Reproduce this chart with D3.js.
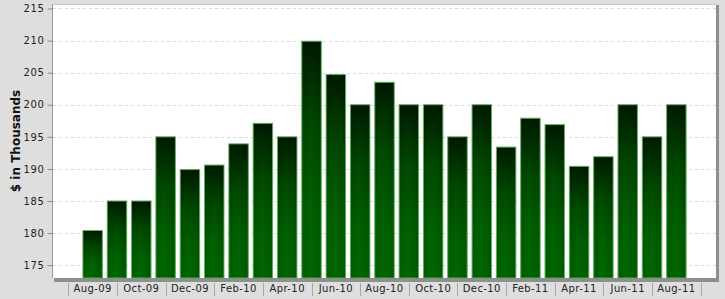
<!DOCTYPE html>
<html>
<head>
<meta charset="utf-8">
<script src="https://cdn.jsdelivr.net/npm/d3@7"></script>
<style>
  html, body { margin: 0; padding: 0; background: #dedede; }
  svg { display: block; font-family: "DejaVu Sans", Verdana, sans-serif; }
</style>
</head>
<body>
<script>
const months = ["Aug-09","Sep-09","Oct-09","Nov-09","Dec-09","Jan-10","Feb-10","Mar-10","Apr-10",
  "May-10","Jun-10","Jul-10","Aug-10","Sep-10","Oct-10","Nov-10","Dec-10","Jan-11","Feb-11",
  "Mar-11","Apr-11","May-11","Jun-11","Jul-11","Aug-11"];
const values = [180.4, 185, 185, 195, 189.9, 190.6, 193.9, 197.1, 195, 209.9, 204.7, 200, 203.5,
  200, 200, 195, 200, 193.4, 197.9, 196.9, 190.4, 191.9, 200, 195, 200];
const yTicks = [175, 180, 185, 190, 195, 200, 205, 210, 215];
const labelledMonths = months.filter((d, i) => i % 2 === 0);
const yLabel = "$ in Thousands";

const W = 725, H = 299;
const plot = {left: 53, top: 4, right: 716, bottom: 278};

const svg = d3.select("body").append("svg")
  .attr("width", W)
  .attr("height", H);

const x = d3.scaleBand()
  .domain(months)
  .range([plot.left, plot.right])
  .paddingInner(0.2)
  .paddingOuter(1.23);

const y = d3.scaleLinear()
  .domain([173, 215.7])
  .range([plot.bottom, plot.top]);

// bar gradient
const defs = svg.append("defs");
const grad = defs.append("linearGradient")
  .attr("id", "barGrad")
  .attr("x1", 0).attr("y1", 0).attr("x2", 0).attr("y2", 1);
grad.append("stop").attr("offset", "0%").attr("stop-color", "#001a00");
grad.append("stop").attr("offset", "35%").attr("stop-color", "#004a00");
grad.append("stop").attr("offset", "70%").attr("stop-color", "#006200");
grad.append("stop").attr("offset", "100%").attr("stop-color", "#006800");

const side = defs.append("linearGradient")
  .attr("id", "sideGrad")
  .attr("x1", 0).attr("y1", 0).attr("x2", 1).attr("y2", 0);
side.append("stop").attr("offset", "0%").attr("stop-color", "#000").attr("stop-opacity", 0.12);
side.append("stop").attr("offset", "45%").attr("stop-color", "#000").attr("stop-opacity", 0);
side.append("stop").attr("offset", "100%").attr("stop-color", "#000").attr("stop-opacity", 0.15);

// plot frame with shadow
svg.append("rect")
  .attr("x", plot.left + 1).attr("y", plot.top + 1)
  .attr("width", plot.right - plot.left + 2)
  .attr("height", plot.bottom - plot.top + 3)
  .attr("fill", "#8f8f8f");
svg.append("rect")
  .attr("x", plot.left).attr("y", plot.top)
  .attr("width", plot.right - plot.left)
  .attr("height", plot.bottom - plot.top)
  .attr("fill", "#fff");
svg.append("line")
  .attr("x1", plot.left).attr("x2", plot.right)
  .attr("y1", plot.top + 0.5).attr("y2", plot.top + 0.5)
  .attr("stroke", "#c8c8c8");
svg.append("line")
  .attr("x1", plot.left - 0.5).attr("x2", plot.left - 0.5)
  .attr("y1", plot.top).attr("y2", plot.bottom)
  .attr("stroke", "#9a9a9a");

// grid
svg.append("g")
  .selectAll("line")
  .data(yTicks)
  .join("line")
  .attr("x1", plot.left).attr("x2", plot.right)
  .attr("y1", d => Math.round(y(d)) + 0.5)
  .attr("y2", d => Math.round(y(d)) + 0.5)
  .attr("stroke", "#d8d8d8")
  .attr("stroke-dasharray", "3,3");

// y axis
const yAxis = svg.append("g")
  .attr("transform", `translate(${plot.left - 0.5},0)`)
  .call(d3.axisLeft(y).tickValues(yTicks).tickSize(5).tickPadding(3));
yAxis.select(".domain").remove();
yAxis.selectAll(".tick line").attr("stroke", "#888");
yAxis.selectAll(".tick text")
  .attr("fill", "#222")
  .attr("font-size", "10px")
  .attr("letter-spacing", "0.6px")
  .attr("font-family", "DejaVu Sans, Verdana, sans-serif");

svg.append("text")
  .attr("transform", `translate(20,${(plot.top + plot.bottom) / 2}) rotate(-90)`)
  .attr("text-anchor", "middle")
  .attr("font-size", "12px")
  .attr("font-weight", "bold")
  .attr("fill", "#111")
  .text(yLabel);

// bars
const bars = svg.append("g");
bars.selectAll("rect.bar")
  .data(values)
  .join("rect")
  .attr("class", "bar")
  .attr("x", (d, i) => x(months[i]))
  .attr("y", d => y(d))
  .attr("width", x.bandwidth())
  .attr("height", d => plot.bottom - y(d))
  .attr("fill", "url(#barGrad)")
  .attr("stroke", "#5fae5f")
  .attr("stroke-width", 1);
bars.selectAll("rect.shade")
  .data(values)
  .join("rect")
  .attr("class", "shade")
  .attr("x", (d, i) => x(months[i]) + 0.5)
  .attr("y", d => y(d) + 0.5)
  .attr("width", x.bandwidth() - 1)
  .attr("height", d => plot.bottom - y(d) - 0.5)
  .attr("fill", "url(#sideGrad)");

// x axis labels and separators
const step = x.step();
const xg = svg.append("g");
xg.selectAll("text")
  .data(labelledMonths)
  .join("text")
  .attr("x", d => x(d) + x.bandwidth() / 2)
  .attr("y", 292)
  .attr("text-anchor", "middle")
  .attr("font-size", "10px")
  .attr("letter-spacing", "0.4px")
  .attr("fill", "#222")
  .text(d => d);
const seps = labelledMonths.map(d => x(d) + x.bandwidth() / 2 - step);
seps.push(x(labelledMonths[labelledMonths.length - 1]) + x.bandwidth() / 2 + step);
xg.selectAll("line")
  .data(seps)
  .join("line")
  .attr("x1", d => Math.round(d) + 0.5).attr("x2", d => Math.round(d) + 0.5)
  .attr("y1", 283).attr("y2", 296)
  .attr("stroke", "#a8a8a8");
</script>
</body>
</html>
